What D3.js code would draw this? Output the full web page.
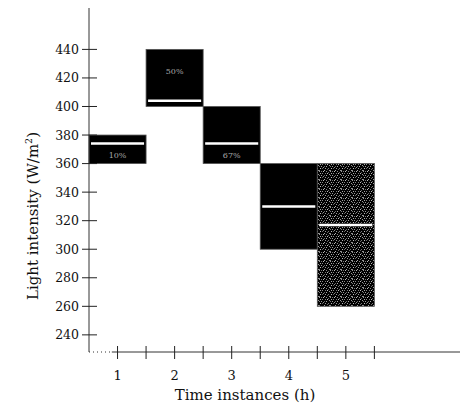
<!DOCTYPE html>
<html>
<head>
<meta charset="utf-8">
<script src="https://cdn.jsdelivr.net/npm/d3@7"></script>
<style>
    body { margin: 0; background: #fff; }
    svg text { font-family: "DejaVu Serif", "Liberation Serif", serif; }
</style>
</head>
<body>
<svg id="chart" width="460" height="407"></svg>
<script>
// values
var timeSlots = [1, 2, 3, 4, 5];
var upperValues = [380, 440, 400, 360, 360];
var lowerValues = [360, 400, 360, 300, 260];
var meanValues = [374, 404, 374, 330, 317];
var boxLabels = ["10%", "50%", "67%", "", ""];
var yTickValues = [240, 260, 280, 300, 320, 340, 360, 380, 400, 420, 440];
var xTickValues = [1, 1.5, 2, 2.5, 3, 3.5, 4, 4.5, 5, 5.5];
var xLabelValues = [1, 2, 3, 4, 5];

var svg = d3.select("#chart");

var xScale = d3.scaleLinear().domain([0.5, 7]).range([89, 460]);
var yScale = d3.scaleLinear().domain([228, 469]).range([352, 8]);

// texture for the last box
var defs = svg.append("defs");
var pat = defs.append("pattern")
    .attr("id", "noise")
    .attr("patternUnits", "userSpaceOnUse")
    .attr("width", 11)
    .attr("height", 9);
pat.append("rect").attr("width", 11).attr("height", 9).attr("fill", "#000");
var dots = [[0, 0, "#999"], [2, 0, "#777"], [4, 0, "#bbb"], [7, 0, "#888"], [9, 1, "#666"],
    [1, 2, "#aaa"], [3, 2, "#888"], [6, 2, "#777"], [8, 2, "#bbb"], [10, 3, "#999"],
    [0, 4, "#777"], [2, 4, "#999"], [5, 4, "#666"], [7, 4, "#aaa"], [4, 5, "#888"],
    [1, 6, "#bbb"], [3, 6, "#666"], [6, 6, "#999"], [9, 6, "#777"], [0, 8, "#888"],
    [5, 8, "#aaa"], [8, 7, "#666"], [10, 8, "#999"]];
dots.forEach(function (d) {
    pat.append("rect").attr("x", d[0]).attr("y", d[1]).attr("width", 1).attr("height", 1).attr("fill", d[2]);
});

var boxes = svg.append("g").attr("class", "boxes");

boxes.selectAll("rect")
    .data(timeSlots)
    .enter()
    .append("rect")
    .attr("x", function (d) { return xScale(d - 0.5); })
    .attr("y", function (d, i) { return yScale(upperValues[i]); })
    .attr("width", function (d) { return xScale(d + 0.5) - xScale(d - 0.5); })
    .attr("height", function (d, i) { return yScale(lowerValues[i]) - yScale(upperValues[i]); })
    .attr("fill", function (d, i) { return i == 4 ? "url(#noise)" : "#000"; })
    .attr("stroke", "#555")
    .attr("stroke-width", 0.8);

boxes.selectAll("line")
    .data(timeSlots)
    .enter()
    .append("line")
    .attr("x1", function (d) { return xScale(d - 0.5) + 2; })
    .attr("x2", function (d) { return xScale(d + 0.5) - 2; })
    .attr("y1", function (d, i) { return yScale(meanValues[i]); })
    .attr("y2", function (d, i) { return yScale(meanValues[i]); })
    .attr("stroke", "#fff")
    .attr("stroke-width", 2.5);

boxes.selectAll("text")
    .data(timeSlots)
    .enter()
    .append("text")
    .attr("x", function (d) { return xScale(d); })
    .attr("y", function (d, i) {
        if (i == 1) return yScale(upperValues[i]) + 25;
        return yScale(meanValues[i]) + 14;
    })
    .attr("text-anchor", "middle")
    .attr("font-size", 8)
    .attr("fill", "#aaa")
    .text(function (d, i) { return boxLabels[i]; });

// axes
var yAxisG = svg.append("g").attr("class", "yAxisG");
yAxisG.append("line")
    .attr("x1", 89).attr("x2", 89)
    .attr("y1", 8).attr("y2", 352)
    .attr("stroke", "#333").attr("stroke-width", 1);
yAxisG.selectAll(".ytick")
    .data(yTickValues)
    .enter()
    .append("line")
    .attr("x1", 82).attr("x2", 97)
    .attr("y1", function (d) { return yScale(d); })
    .attr("y2", function (d) { return yScale(d); })
    .attr("stroke", "#222");
yAxisG.selectAll("text")
    .data(yTickValues)
    .enter()
    .append("text")
    .attr("x", 79)
    .attr("y", function (d) { return yScale(d) + 4.5; })
    .attr("text-anchor", "end")
    .attr("font-size", 12.5)
    .attr("fill", "#111")
    .text(function (d) { return d; });

var xAxisG = svg.append("g").attr("class", "xAxisG");
xAxisG.append("line")
    .attr("x1", 89).attr("x2", xScale(0.9))
    .attr("y1", 352).attr("y2", 352)
    .attr("stroke", "#333").attr("stroke-dasharray", "1,3");
xAxisG.append("line")
    .attr("x1", xScale(0.9)).attr("x2", 460)
    .attr("y1", 352).attr("y2", 352)
    .attr("stroke", "#333");
xAxisG.selectAll(".xtick")
    .data(xTickValues)
    .enter()
    .append("line")
    .attr("x1", function (d) { return xScale(d); })
    .attr("x2", function (d) { return xScale(d); })
    .attr("y1", 346).attr("y2", 359)
    .attr("stroke", "#222");
xAxisG.selectAll("text")
    .data(xLabelValues)
    .enter()
    .append("text")
    .attr("x", function (d) { return xScale(d); })
    .attr("y", 380)
    .attr("text-anchor", "middle")
    .attr("font-size", 13)
    .attr("fill", "#111")
    .text(function (d) { return d; });

svg.append("text")
    .attr("x", 245)
    .attr("y", 400)
    .attr("text-anchor", "middle")
    .attr("font-size", 15)
    .attr("fill", "#111")
    .text("Time instances (h)");

var yLabel = svg.append("text")
    .attr("transform", "translate(38," + 216 + ") rotate(-90)")
    .attr("text-anchor", "middle")
    .attr("font-size", 15)
    .attr("fill", "#111");
yLabel.append("tspan").text("Light intensity (W/m");
yLabel.append("tspan").attr("font-size", 9.5).attr("dy", -6).text("2");
yLabel.append("tspan").attr("dy", 6).text(")");
</script>
</body>
</html>
